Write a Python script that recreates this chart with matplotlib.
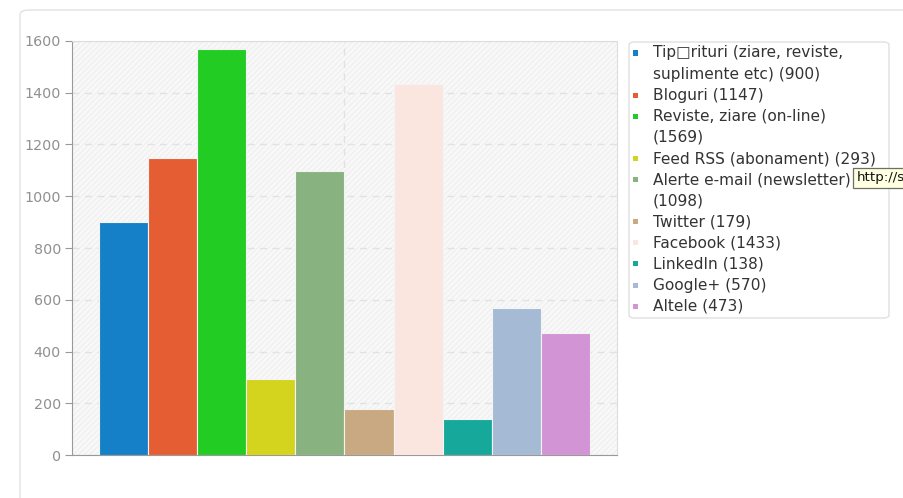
import matplotlib
matplotlib.use("Agg")
import matplotlib.pyplot as plt
from matplotlib.patches import Rectangle, FancyBboxPatch

labels = ["Tip\u25a1rituri (ziare, reviste,\nsuplimente etc) (900)", "Bloguri (1147)",
          "Reviste, ziare (on-line)\n(1569)", "Feed RSS (abonament) (293)",
          "Alerte e-mail (newsletter)\n(1098)", "Twitter (179)", "Facebook (1433)",
          "LinkedIn (138)", "Google+ (570)", "Altele (473)"]
values = [900, 1147, 1569, 293, 1098, 179, 1433, 138, 570, 473]
colors = ["#1580C8", "#E55E33", "#22CC22", "#D4D41E", "#88B27F",
          "#C8A982", "#FAE6DF", "#17A89C", "#A5BAD5", "#D294D4"]
yticks = [0, 200, 400, 600, 800, 1000, 1200, 1400, 1600]

W, H = 904, 498
fig = plt.figure(figsize=(W / 100, H / 100), dpi=100)
plt.rcParams['hatch.linewidth'] = 0.6

# outer card
fig.patches.append(FancyBboxPatch((20 / W, -0.05), 1.0, (H - 10) / H + 0.05,
                                  boxstyle="round,pad=0,rounding_size=0.01",
                                  transform=fig.transFigure, fc="white",
                                  ec="#e2e2e2", lw=1.0, zorder=-5))

ax = fig.add_axes([72 / W, (H - 455) / H, 545 / W, 414 / H])
ax.set_zorder(1)
ax.set_facecolor("#f8f8f8")
ax.add_patch(Rectangle((0, 0), 1, 1, transform=ax.transAxes, fc="#f8f8f8",
                       ec="#ececec", hatch="//////", lw=0, zorder=0))

n = len(values)
w = 0.09
for i, (v, c) in enumerate(zip(values, colors)):
    x = -0.45 + w * i + w / 2
    ax.bar(x, v, width=w, color=c, edgecolor="#f4f4f4", lw=0.8, zorder=3)

ax.set_xlim(-0.5, 0.5)
ax.set_ylim(0, 1600)
ax.set_yticks(yticks)
ax.set_xticks([0])
ax.set_xticklabels([""])
ax.tick_params(axis="x", length=0)
ax.tick_params(axis="y", length=5, color="#999999", labelcolor="#909090",
               labelsize=10.3, pad=3)
ax.grid(True, color="#e2e2e2", linestyle=(0, (5, 4)), lw=1.0, zorder=1)
ax.set_axisbelow(True)
for s in ["top", "right"]:
    ax.spines[s].set_color("#dddddd")
ax.spines["left"].set_color("#999999")
ax.spines["bottom"].set_color("#999999")

# legend box
lx0, ly0, lx1, ly1 = 629, 42, 889, 318
fig.patches.append(FancyBboxPatch((lx0 / W, 1 - ly1 / H), (lx1 - lx0) / W, (ly1 - ly0) / H,
                                  boxstyle="round,pad=0,rounding_size=0.006",
                                  transform=fig.transFigure, fc="white",
                                  ec="#e0e0e0", lw=1.0, zorder=2))
line_y = 53
step = 21.1
for lab, c in zip(labels, colors):
    fig.patches.append(Rectangle((633 / W, 1 - (line_y + 2.5) / H), 5 / W, 5 / H,
                                 transform=fig.transFigure, fc=c, ec="none", zorder=3))
    for k, line in enumerate(lab.split("\n")):
        fig.text(653 / W, 1 - line_y / H, line, fontsize=11.1, color="#333333",
                 va="center", ha="left", zorder=4)
        line_y += step

# tooltip
fig.patches.append(Rectangle((853.5 / W, 1 - 188 / H), 60 / W, 20 / H,
                             transform=fig.transFigure, fc="#ffffe1", ec="#6f6f5f",
                             lw=0.9, zorder=5))
fig.text(857 / W, 1 - 177.5 / H, "http://s", fontsize=9.6, color="#111111",
         va="center", ha="left", zorder=6)

fig.savefig("out.png", dpi=100)
